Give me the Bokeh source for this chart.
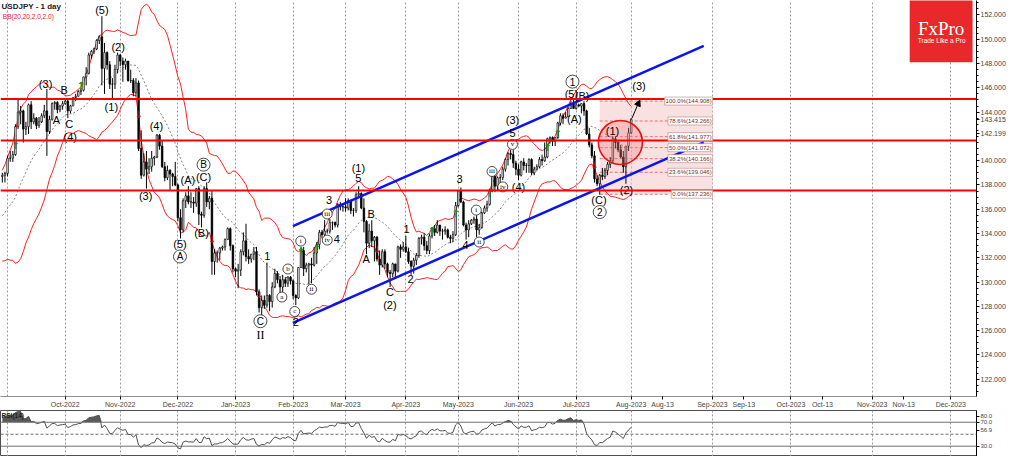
import numpy as np
import pandas as pd
from bokeh.plotting import figure
from bokeh.layouts import column
from bokeh.models import (ColumnDataSource, FixedTicker, Span, Label, Arrow, NormalHead,
                          NumeralTickFormatter, Range1d)
from bokeh.core.properties import value
from bokeh.embed import file_html
from bokeh.resources import INLINE

# ---------------- data (USDJPY daily, 30 Aug 2022 .. 1 Aug 2023) ----------------
first_open = 138.7
close = [138.8, 138.95,
         140.2, 140.2, 140.5, 142.8, 144.0, 144.1, 142.6, 142.8, 144.6, 143.2, 143.5, 142.9, 143.2, 143.7, 144.1, 142.4, 143.4, 144.7, 144.8, 144.2, 144.5, 144.7,
         144.9, 144.1, 144.5, 145.2, 145.3, 145.7, 145.8, 146.9, 147.2, 148.7, 149.0, 149.2, 149.9, 150.2, 147.6, 148.9, 147.9, 146.3, 146.3, 147.5, 148.7,
         148.2, 147.9, 148.2, 146.6, 146.6, 145.6, 146.4, 141.0, 138.8, 139.9, 139.3, 139.5, 140.2, 140.3, 142.1, 141.2, 139.5, 138.6, 139.2, 138.9, 138.7, 138.0,
         135.3, 134.3, 136.7, 137.1, 136.6, 136.6, 136.5, 137.7, 135.6, 135.5, 137.7, 136.6, 136.9, 131.7, 132.4, 132.4, 132.8, 132.9, 133.5, 134.4, 133.0, 131.1,
         130.9, 131.0, 132.5, 133.4, 132.1, 131.9, 132.3, 132.5, 129.2, 127.9, 128.5, 128.1, 128.9, 128.4, 129.6, 130.7, 130.2, 129.6, 130.2, 129.9, 130.4, 130.1,
         128.9, 128.7, 131.2, 132.6, 131.1, 131.4, 131.5, 131.4, 132.4, 133.1, 134.1, 133.9, 134.2, 134.2, 134.9, 134.9, 134.7, 136.4, 136.2, 136.2,
         136.1, 136.7, 135.9, 135.9, 137.2, 137.3, 136.1, 135.0, 133.2, 134.2, 133.4, 133.7, 131.9, 131.4, 132.5, 131.5, 130.8, 130.7, 131.5, 130.9, 132.9, 132.7, 132.9,
         132.5, 131.7, 131.3, 131.8, 132.2, 133.6, 133.7, 133.0, 132.6, 133.8, 134.4, 134.1, 134.7, 134.2, 134.2, 134.3, 133.7, 133.6, 133.9, 136.3,
         137.5, 136.6, 134.7, 134.3, 134.8, 135.1, 135.2, 134.3, 134.5, 135.7, 136.1, 136.4, 137.6, 138.7, 137.9, 138.6, 138.6, 139.3, 140.1, 140.6, 140.5, 139.8, 139.3,
         138.8, 139.9, 139.6, 139.6, 140.1, 139.0, 139.3, 139.5, 140.1, 140.0, 140.3, 141.8, 141.9, 141.6, 141.9, 143.1, 143.7, 143.5, 143.6, 144.3, 144.7, 144.3,
         144.6, 144.5, 144.7, 144.1, 142.2, 141.3, 140.4, 138.5, 138.1, 138.8, 138.7, 139.2, 139.7, 140.0, 141.8, 141.5, 140.9, 140.3, 139.5, 141.2, 142.3,
         143.415]
high = [139.0, 139.1,
        140.4, 140.8, 140.8, 143.0, 145.0, 144.5, 144.2, 143.2, 144.7, 144.9, 143.9, 143.6, 143.6, 143.9, 144.6, 145.9, 143.7, 144.8, 144.9, 144.9, 144.6, 144.9,
        145.0, 145.0, 144.6, 145.2, 145.5, 145.8, 146.0, 146.9, 147.7, 148.9, 149.1, 149.3, 150.0, 150.3, 151.9, 149.7, 149.0, 148.2, 146.8, 147.9, 148.9,
        148.8, 148.5, 148.4, 148.2, 147.5, 146.8, 146.8, 146.6, 142.5, 140.6, 140.8, 140.2, 140.8, 140.4, 142.2, 142.2, 141.7, 139.9, 139.6, 139.3, 139.0, 139.9,
        138.1, 136.0, 136.9, 137.4, 137.9, 137.4, 137.0, 137.7, 137.9, 135.8, 137.9, 138.2, 137.1, 137.5, 132.7, 132.6, 132.9, 133.0, 133.6, 134.5, 134.5, 133.1,
        131.2, 131.5, 132.7, 134.1, 134.8, 132.7, 132.3, 132.9, 132.9, 129.4, 128.9, 128.9, 131.6, 129.0, 130.0, 131.1, 130.9, 130.5, 130.6, 130.4, 130.5, 130.5,
        130.2, 129.0, 131.2, 132.9, 132.9, 131.6, 131.6, 132.0, 132.9, 133.3, 134.3, 134.3, 135.1, 134.4, 135.2, 135.0, 135.0, 136.5, 136.6, 136.5,
        136.9, 136.9, 136.8, 136.1, 137.4, 137.9, 137.4, 136.9, 135.1, 134.8, 135.1, 133.8, 133.8, 132.6, 132.7, 132.7, 131.6, 131.0, 131.6, 131.5, 133.0, 133.1, 133.3,
        133.8, 132.8, 131.8, 132.0, 132.4, 133.7, 133.9, 134.0, 133.4, 134.0, 134.5, 134.7, 135.1, 134.7, 134.4, 134.6, 134.4, 133.9, 134.2, 136.6,
        137.6, 137.8, 136.7, 134.9, 135.1, 135.2, 135.4, 135.5, 134.8, 135.8, 136.3, 136.7, 137.7, 138.7, 138.8, 138.7, 138.9, 139.5, 140.2, 140.7, 140.9, 140.9, 140.0,
        139.7, 140.0, 140.2, 139.8, 140.2, 140.2, 139.5, 139.7, 140.3, 140.5, 141.5, 141.9, 142.0, 142.0, 141.9, 143.2, 143.9, 143.9, 144.0, 144.4, 144.9, 145.1,
        144.9, 144.7, 144.7, 144.9, 144.2, 142.7, 141.5, 140.8, 138.8, 138.9, 139.4, 139.4, 139.9, 140.3, 142.0, 142.0, 141.6, 141.3, 140.8, 141.2, 142.7,
        143.5]
low = [138.2, 138.2,
       138.7, 139.9, 139.9, 140.4, 142.6, 143.0, 141.5, 142.1, 142.2, 142.6, 143.0, 142.6, 142.7, 143.1, 143.5, 140.4, 142.2, 143.3, 144.2, 143.9, 144.0, 144.2,
       144.6, 143.5, 143.9, 144.5, 144.9, 145.3, 145.4, 145.7, 146.2, 147.1, 148.4, 148.8, 149.1, 149.6, 146.2, 145.5, 147.5, 145.9, 145.1, 145.9, 147.2,
       147.8, 146.5, 147.5, 146.5, 146.4, 145.3, 145.3, 140.8, 138.5, 138.7, 137.7, 138.9, 139.1, 139.6, 140.2, 140.9, 139.4, 138.3, 138.4, 137.5, 137.9, 137.9,
       135.0, 133.6, 134.1, 136.1, 136.4, 136.1, 135.7, 136.2, 134.7, 134.5, 135.3, 136.2, 136.0, 130.6, 130.6, 131.6, 131.8, 132.6, 132.6, 133.5, 132.6, 130.8,
       130.4, 129.5, 130.5, 132.2, 131.7, 131.5, 131.6, 131.8, 128.9, 127.5, 127.2, 127.8, 127.9, 127.6, 127.9, 129.5, 129.9, 129.0, 129.2, 129.6, 129.6, 129.8,
       128.6, 128.1, 128.6, 131.2, 130.5, 130.8, 129.8, 129.9, 131.3, 131.5, 132.7, 133.6, 133.6, 134.0, 134.0, 134.3, 134.5, 134.5, 135.9, 135.8,
       135.8, 135.9, 135.6, 135.4, 135.7, 137.1, 136.0, 134.1, 132.3, 132.8, 132.9, 131.7, 131.7, 130.6, 131.2, 131.1, 130.4, 129.6, 130.4, 130.4, 130.8, 132.0, 132.5,
       132.4, 131.5, 130.6, 130.7, 131.4, 132.0, 133.1, 132.6, 132.3, 132.3, 133.6, 133.8, 134.0, 133.8, 133.5, 133.9, 133.6, 133.2, 133.3, 133.8,
       136.2, 136.5, 134.6, 133.5, 133.7, 134.7, 134.8, 133.7, 133.9, 134.4, 135.6, 135.8, 136.3, 137.4, 137.4, 137.6, 138.1, 138.4, 139.1, 139.6, 140.1, 139.4, 138.8,
       138.4, 138.7, 139.2, 139.0, 139.0, 138.8, 138.8, 139.2, 139.4, 139.6, 139.9, 140.2, 141.4, 141.2, 141.2, 141.8, 142.9, 143.0, 143.5, 143.6, 144.3, 144.3,
       144.2, 144.4, 143.9, 143.7, 142.1, 141.1, 140.2, 138.2, 137.9, 137.2, 138.4, 138.5, 138.8, 139.4, 139.8, 141.0, 140.7, 140.2, 139.0, 138.1, 140.8,
       142.2]
# closes of 1..29 Aug 2022, only used to warm up the BB(20) and RSI(14) indicators
warmup_close = [132.6, 133.2, 133.9, 133.0, 135.0, 134.9, 135.1, 132.9, 133.0, 133.4, 133.3,
                134.2, 135.0, 135.9, 137.0, 137.5, 136.8, 137.2, 136.6, 137.2, 138.7]

# x axis: bar index (0 = 3 Oct 2022); future part in calendar days
tick_pos = [0, 21, 43, 65, 87, 107, 130, 150, 173, 195, 216, 228, 247, 259, 277, 289, 308, 320, 338]
tick_lbl = ["Oct-2022", "Nov-2022", "Dec-2022", "Jan-2023", "Feb-2023", "Mar-2023", "Apr-2023", "May-2023",
            "Jun-2023", "Jul-2023", "Aug-2023", "Aug-13", "Sep-2023", "Sep-13", "Oct-2023", "Oct-13",
            "Nov-2023", "Nov-13", "Dec-2023"]
grid_pos = [-22, 0, 21, 43, 65, 87, 107, 130, 150, 173, 195, 216, 247, 277, 308, 338]
price_ticks = [122, 124, 126, 128, 130, 132, 134, 136, 138, 140, 144, 146, 148, 150, 152]
rsi_ticks = [30, 70, 80]

# support / resistance levels
h_levels = [145.07, 141.66, 137.55]
# channel
chan_x = [86.9, 243.7]
chan_upper = [134.61, 149.45]
chan_lower = [126.65, 141.50]
# fibonacci
fib_pct = ["100.0%", "78.6%", "61.8%", "50.0%", "38.2%", "23.6%", "0.0%"]
fib_price = [144.908, 143.266, 141.977, 141.072, 140.166, 139.046, 137.236]
fib_x = [204.0, 230.6, 247.1]

# wave labels
wave_text = ["(5)", "(3)", "B", "A", "C", "(4)", "(1)", "(2)", "(3)", "(4)",
             "(5)", "(A)", "(C)", "(B)", "1", "2", "3", "4", "(1)", "5",
             "B", "A", "C", "(2)", "1", "2", "3", "4", "(4)", "5",
             "(3)", "(5)", "(B)", "(A)", "(C)", "(1)", "(2)", "(3)"]
wave_x = [14, -7.5, -0.4, -3.4, 1.5, 1.9, 17.6, 20.2, 30.7, 34.8,
          43.8, 46.8, 52.8, 52.0, 77.1, 88.0, 100.7, 103.7, 111.9, 111.9,
          116.8, 114.9, 123.9, 123.9, 130.3, 131.8, 150.5, 152.8, 173.0, 170.7,
          170.7, 193.2, 197.3, 194.3, 203.7, 208.9, 214.2, 219.0]
wave_y = [152.4, 146.35, 145.8, 143.33, 143.0, 141.98, 144.44, 149.37, 137.12, 142.85,
          133.15, 138.4, 138.63, 134.02, 132.19, 126.70, 136.73, 133.54, 139.43, 138.56,
          135.61, 131.87, 129.17, 128.13, 134.34, 130.28, 138.48, 133.07, 137.84, 142.29,
          143.33, 145.48, 145.32, 143.41, 136.73, 142.45, 137.60, 146.11]
circ_text = ["A", "B", "C", "a", "b", "c", "i", "ii", "iii", "iv", "i", "ii", "iii", "iv", "v", "1", "2"]
circ_x = [43.8, 52.8, 74.5, 82.7, 85.0, 87.6, 89.9, 94.0, 100.0, 100.0, 156.9, 158.0, 162.9, 167.0, 170.7, 193.6, 204.0]
circ_y = [132.11, 139.67, 126.78, 128.77, 131.08, 127.58, 133.38, 129.41, 135.61, 133.46,
          135.93, 133.30, 139.11, 137.84, 141.34, 146.51, 135.77]
roman_text = ["II"]
roman_x = [74.5]
roman_y = [125.67]
# signal arrows
buy_x = [-19, 6, 90, 96, 140, 149, 162, 184, 188]
buy_y = [141.26, 146.19, 132.51, 132.75, 134.26, 135.61, 137.28, 141.10, 142.21]
sell_x = [28, 56, 74, 119, 202]
sell_y = [143.8, 133.54, 129.0, 132.67, 139.59]
# target zone / projection
zone_x = [211.9]
zone_y = [141.5]
proj_x = [216.3, 219.3]
proj_y = [143.49, 145.0]
last_price = 143.415
bid_price = 142.199
rsi_last = 56.9

# ---------------- derived ----------------
dates = pd.bdate_range("2022-08-30", "2023-08-01")
bar = np.arange(len(dates)) - int(dates.get_loc(pd.Timestamp("2022-10-03")))
open_ = [first_open] + close[:-1]
allc = pd.Series(warmup_close + close)
nw = len(warmup_close)
mid = allc.rolling(20).mean().iloc[nw:].values
sd = allc.rolling(20).std(ddof=0).iloc[nw:].values
upper = mid + 2 * sd
lower = mid - 2 * sd
d = allc.diff()
gain = d.clip(lower=0).ewm(alpha=1 / 14, adjust=False).mean()
loss = (-d.clip(upper=0)).ewm(alpha=1 / 14, adjust=False).mean()
rsi = (100 - 100 / (1 + gain / loss)).iloc[nw:].values

up = [c >= o for o, c in zip(open_, close)]
src = ColumnDataSource(dict(x=bar, o=open_, h=high, l=low, c=close,
                            top=[max(a, b) for a, b in zip(open_, close)],
                            bot=[min(a, b) for a, b in zip(open_, close)],
                            fill=["white" if u else "black" for u in up],
                            up=upper, lo=lower, mid=mid))

FONT = value("Liberation Sans")
XR = Range1d(-24.7, 347.8)

# ---------------- main chart ----------------
p = figure(width=1008, height=410, x_range=XR, y_range=Range1d(120.58, 153.19),
           y_axis_location="right", output_backend="svg", toolbar_location=None,
           min_border_left=0, min_border_top=0, min_border_bottom=0, min_border_right=31,
           background_fill_color="white", border_fill_color="white")
p.outline_line_color = None
p.ygrid.visible = False
p.xgrid.ticker = FixedTicker(ticks=grid_pos)
p.xgrid.grid_line_color = "#9a9a9a"
p.xgrid.grid_line_dash = "2 2"
p.xgrid.grid_line_width = 1

ytick_all = price_ticks + [last_price, bid_price]
p.yaxis.ticker = FixedTicker(ticks=ytick_all, minor_ticks=list(np.arange(120.5, 153.5, 0.5)))
p.yaxis.formatter = NumeralTickFormatter(format="0.000")
p.yaxis.major_label_text_font = "Liberation Sans"
p.yaxis.major_label_text_font_size = "7px"
p.yaxis.major_label_standoff = 1
p.yaxis.major_tick_out = 3
p.yaxis.major_tick_in = 0
p.yaxis.minor_tick_out = 2
p.yaxis.minor_tick_in = 0
p.yaxis.axis_line_color = "black"

p.xaxis.ticker = FixedTicker(ticks=tick_pos)
p.xaxis.major_label_overrides = {t: s for t, s in zip(tick_pos, tick_lbl)}
p.xaxis.major_label_text_font = "Liberation Sans"
p.xaxis.major_label_text_font_size = "7px"
p.xaxis.major_label_standoff = 1
p.xaxis.major_tick_out = 3
p.xaxis.major_tick_in = 0
p.xaxis.minor_tick_line_color = None
p.xaxis.axis_line_color = "#909090"

# Fibonacci zone
p.quad(left=fib_x[0], right=fib_x[2], bottom=fib_price[-1], top=fib_price[0],
       fill_color="#F5C9C9", fill_alpha=0.55, line_color=None)
p.segment(x0=[fib_x[0]] * len(fib_price), x1=[fib_x[1]] * len(fib_price), y0=fib_price, y1=fib_price,
          line_color="#E07070", line_width=1, line_dash="3 2")

# Bollinger bands
p.line("x", "up", source=src, line_color="#FF2020", line_width=1)
p.line("x", "lo", source=src, line_color="#FF2020", line_width=1)
p.line("x", "mid", source=src, line_color="#808080", line_width=1, line_dash="2 2")

# candles
p.segment(x0="x", x1="x", y0="l", y1="h", source=src, line_color="black", line_width=1)
p.vbar(x="x", width=0.6, top="top", bottom="bot", source=src, fill_color="fill",
       line_color="black", line_width=0.7)

# horizontal levels
for lv in h_levels:
    p.add_layout(Span(location=lv, dimension="width", line_color="#FF0000", line_width=2))

# channel
p.line(chan_x, chan_upper, line_color="#0A14F0", line_width=2.5)
p.line(chan_x, chan_lower, line_color="#0A14F0", line_width=2.5)

# target circle
p.scatter(zone_x, zone_y, marker="circle", size=44, fill_color="#F08080", fill_alpha=0.35,
          line_color="#E81010", line_width=1.6)

# fib labels
for pct, pr in zip(fib_pct, fib_price):
    p.add_layout(Label(x=fib_x[2], y=pr, text=f"{pct}({pr:.3f})", text_align="right",
                       text_baseline="middle", text_font="Liberation Sans", text_font_size="6px",
                       text_color="#703030", background_fill_color="white",
                       border_line_color="#C09090", border_line_width=0.7, padding=1))

# projection arrow
p.add_layout(Arrow(end=NormalHead(size=6, fill_color="black", line_color="black"),
                   x_start=proj_x[0], y_start=proj_y[0], x_end=proj_x[1], y_end=proj_y[1],
                   line_color="black", line_width=1))

# signals
p.text(buy_x, buy_y, text=["↑"] * len(buy_x), text_align="center", text_baseline="middle",
       text_font=value("DejaVu Sans"), text_font_size=value("10px"), text_font_style="bold",
       text_color="#0A9A0A")
p.text(sell_x, sell_y, text=["↓"] * len(sell_x), text_align="center", text_baseline="middle",
       text_font=value("DejaVu Sans"), text_font_size=value("10px"), text_font_style="bold",
       text_color="#B01010")

# wave labels
p.text(wave_x, wave_y, text=wave_text, text_align="center", text_baseline="middle",
       text_font=FONT, text_font_size=value("11px"), text_color="black")
big = [t in ("A", "B", "C", "1", "2") for t in circ_text]
p.scatter([x for x, b in zip(circ_x, big) if b], [y for y, b in zip(circ_y, big) if b],
          marker="circle", size=13, fill_color="white", line_color="#202020", line_width=0.8)
p.scatter([x for x, b in zip(circ_x, big) if not b], [y for y, b in zip(circ_y, big) if not b],
          marker="circle", size=10, fill_color="white", line_color="#202020", line_width=0.8)
p.text([x for x, b in zip(circ_x, big) if b], [y for y, b in zip(circ_y, big) if b],
       text=[t for t, b in zip(circ_text, big) if b], text_align="center", text_baseline="middle",
       text_font=FONT, text_font_size=value("10px"), text_color="black")
p.text([x for x, b in zip(circ_x, big) if not b], [y for y, b in zip(circ_y, big) if not b],
       text=[t for t, b in zip(circ_text, big) if not b], text_align="center", text_baseline="middle",
       text_font=value("Liberation Serif"), text_font_size=value("7px"), text_color="black")
p.text(roman_x, roman_y, text=roman_text, text_align="center", text_baseline="middle",
       text_font=value("Liberation Serif"), text_font_size=value("12px"), text_color="black")

# title texts
p.add_layout(Label(x=-24.3, y=152.72, text="USDJPY - 1 day", text_baseline="middle",
                   text_font="Liberation Sans", text_font_size="8px", text_font_style="bold",
                   text_color="#202020"))
p.add_layout(Label(x=-23.8, y=151.84, text="BB(20,20,2.0,2.0)", text_baseline="middle",
                   text_font="Liberation Sans", text_font_size="6.5px", text_color="#E02020"))

# FxPro logo
p.quad(left=[322.3], right=[346.3], bottom=[148.1], top=[153.3], fill_color="#E8282B", line_color=None)
p.text([334.3], [150.89], text=["FxPro"], text_align="center", text_baseline="middle",
       text_font=value("Liberation Serif"), text_font_size=value("19px"), text_color="white")
p.text([334.5], [149.93], text=["Trade Like a Pro"], text_align="center", text_baseline="middle",
       text_font=FONT, text_font_size=value("6.5px"), text_color="white")

# ---------------- RSI panel ----------------
r = figure(width=1008, height=46, x_range=XR, y_range=Range1d(12.8, 89.6),
           y_axis_location="right", x_axis_location=None, output_backend="svg", toolbar_location=None,
           min_border_left=0, min_border_top=0, min_border_bottom=0, min_border_right=31,
           background_fill_color="white", border_fill_color="white")
r.outline_line_color = "#505050"
r.ygrid.visible = False
r.xgrid.ticker = FixedTicker(ticks=grid_pos)
r.xgrid.grid_line_color = "#9a9a9a"
r.xgrid.grid_line_dash = "2 2"
r.yaxis.ticker = FixedTicker(ticks=rsi_ticks + [rsi_last])
r.yaxis.formatter = NumeralTickFormatter(format="0.0")
r.yaxis.major_label_text_font = "Liberation Sans"
r.yaxis.major_label_text_font_size = "6px"
r.yaxis.major_label_standoff = 1
r.yaxis.major_tick_out = 3
r.yaxis.major_tick_in = 0
r.yaxis.minor_tick_line_color = None
r.yaxis.axis_line_color = "black"
for lv, dash in ((70, "solid"), (30, "solid"), (50, "3 2")):
    r.add_layout(Span(location=lv, dimension="width", line_color="#707070", line_width=1, line_dash=dash))
r.varea(x=bar, y1=[70] * len(bar), y2=np.maximum(rsi, 70), fill_color="#5a5a5a")
r.line(bar, rsi, line_color="#505050", line_width=1)
r.add_layout(Label(x=-24.3, y=82, text="RSI(14)", text_baseline="middle",
                   text_font="Liberation Sans", text_font_size="6.5px", text_font_style="bold",
                   text_color="#202020"))

layout = column(p, r, spacing=0)
open("out.html", "w").write(file_html(layout, INLINE))
